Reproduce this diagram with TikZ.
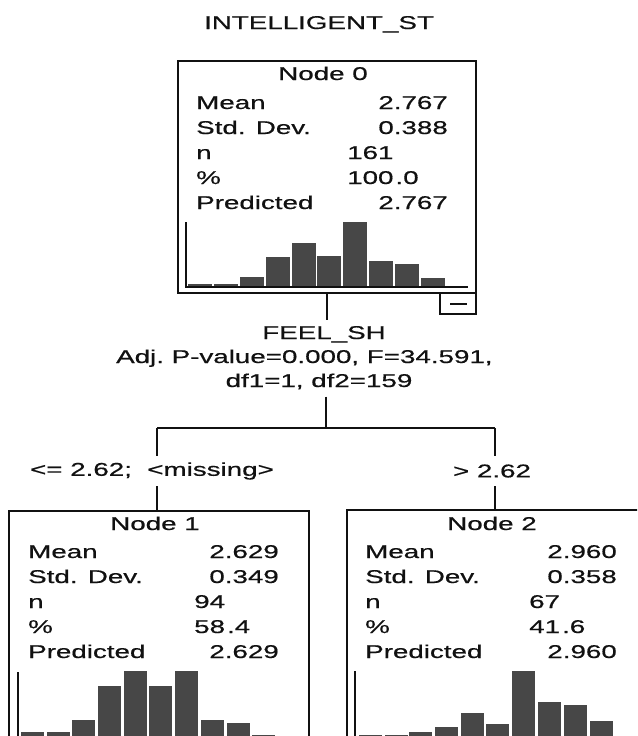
\documentclass[tikz,border=0pt]{standalone}
\usepackage{fontspec}
\setmainfont[FakeStretch=1.5,FakeBold=0.6]{Liberation Sans}
\definecolor{barc}{HTML}{474747}
\definecolor{inkc}{HTML}{111111}
\begin{document}
\begin{tikzpicture}[x=1pt,y=-1pt,
  txt/.style={inner sep=0pt, font=\fontsize{18.5}{24}\selectfont, text=inkc},
  lbl/.style={txt, anchor=base west},
  val/.style={txt, anchor=base east},
  ttl/.style={txt, anchor=base},
  box/.style={draw=inkc, line width=2.2pt, inner sep=0pt, anchor=north west},
  conn/.style={draw=inkc, line width=2.4pt},
  axisl/.style={draw=inkc, line width=1.6pt},
  bar/.style={fill=barc, draw=none}]
\clip (0,0) rectangle (637,736);
\fill[white] (0,0) rectangle (637,736);

% title
\node[ttl] (title) at (319,29) {INTELLIGENT\_ST};

% ---------- Node 0 ----------
\node[box, minimum width=298pt, minimum height=232pt] (n0) at (177,60) {};
\node[ttl] (n0t) at (323,80) {Node 0};
\node[lbl] (n0l1) at (196,109) {Mean};
\node[lbl] (n0l2) at (196,134) {Std. Dev.};
\node[lbl] (n0l3) at (196,159) {n};
\node[lbl] (n0l4) at (196,184) {\%};
\node[lbl] (n0l5) at (196,209) {Predicted};
\node[val] (n0v1) at (448,109) {2.767};
\node[val] (n0v2) at (448,134) {0.388};
\node[lbl] (n0v3) at (347,159) {161};
\node[lbl] (n0v4) at (347,184) {100\kern2pt.0};
\node[val] (n0v5) at (448,209) {2.767};
\foreach \x/\t in {188/284,214/284,240/277,266/257,292/243,317/256,343/222,369/261,395/264,421/278}
  \fill[bar] (\x,\t) rectangle ++(24,287-\t);
\draw[axisl] (186,222) -- (186,287) -- (468,287);
\node[box, minimum width=36pt, minimum height=21pt] (n0min) at (439,292) {};
\draw[line width=1.8pt, draw=inkc] ([xshift=-8pt]n0min.center) -- ([xshift=9pt]n0min.center);

% ---------- split ----------
\node[ttl, inner ysep=6pt] (sv) at (324,339) {FEEL\_SH};
\node[lbl] (sp) at (116,363) {Adj.\ P-value=0.000, F=34.591,};
\node[ttl, inner ysep=7pt] (sd) at (319,387) {df1=1, df2=159};
\coordinate (j) at (326,428);
\coordinate (jl) at (157,428);
\coordinate (jr) at (495,428);
\draw[conn] (n0.south) -- (n0.south |- sv.north);
\draw[conn] (j |- sd.south) -- (j);
\draw[conn] (jl) -- (jr);

% branch labels
\node[txt, minimum height=30pt] (bl) at (152,471) {<= 2.62;\ \ <missing>};
\node[txt, minimum height=30pt] (br) at (492,471) {> 2.62};
\draw[conn] (jl) -- (jl |- bl.north);
\draw[conn] (jr) -- (jr |- br.north);

% ---------- Node 1 ----------
\node[box, minimum width=300pt, minimum height=232pt] (n1) at (8,510) {};
\draw[conn] (jl |- bl.south) -- (jl |- n1.north);
\node[ttl] (n1t) at (155,530) {Node 1};
\node[lbl] (n1l1) at (28,558) {Mean};
\node[lbl] (n1l2) at (28,583) {Std. Dev.};
\node[lbl] (n1l3) at (28,608) {n};
\node[lbl] (n1l4) at (28,633) {\%};
\node[lbl] (n1l5) at (28,658) {Predicted};
\node[val] (n1v1) at (279,558) {2.629};
\node[val] (n1v2) at (279,583) {0.349};
\node[lbl] (n1v3) at (194,608) {94};
\node[lbl] (n1v4) at (194,633) {58\kern2pt.4};
\node[val] (n1v5) at (279,658) {2.629};
\foreach \x/\t in {21/732,47/732,72/720,98/686,124/671,149/686,175/671,201/720,227/723,252/735}
  \fill[bar] (\x,\t) rectangle ++(23,737-\t);
\draw[axisl] (18,672) -- (18,737) -- (300,737);

% ---------- Node 2 ----------
\node[box, minimum width=298pt, minimum height=232pt] (n2) at (346,509) {};
\draw[conn] (jr |- br.south) -- (jr |- n2.north);
\node[ttl] (n2t) at (492,530) {Node 2};
\node[lbl] (n2l1) at (365,558) {Mean};
\node[lbl] (n2l2) at (365,583) {Std. Dev.};
\node[lbl] (n2l3) at (365,608) {n};
\node[lbl] (n2l4) at (365,633) {\%};
\node[lbl] (n2l5) at (365,658) {Predicted};
\node[val] (n2v1) at (617,558) {2.960};
\node[val] (n2v2) at (617,583) {0.358};
\node[lbl] (n2v3) at (529,608) {67};
\node[lbl] (n2v4) at (529,633) {41\kern2pt.6};
\node[val] (n2v5) at (617,658) {2.960};
\foreach \x/\t in {359/735,385/735,409/732,435/727,461/713,486/724,512/671,538/702,564/705,590/721}
  \fill[bar] (\x,\t) rectangle ++(23,737-\t);
\draw[axisl] (355,671) -- (355,737) -- (637,737);
\end{tikzpicture}
\end{document}
